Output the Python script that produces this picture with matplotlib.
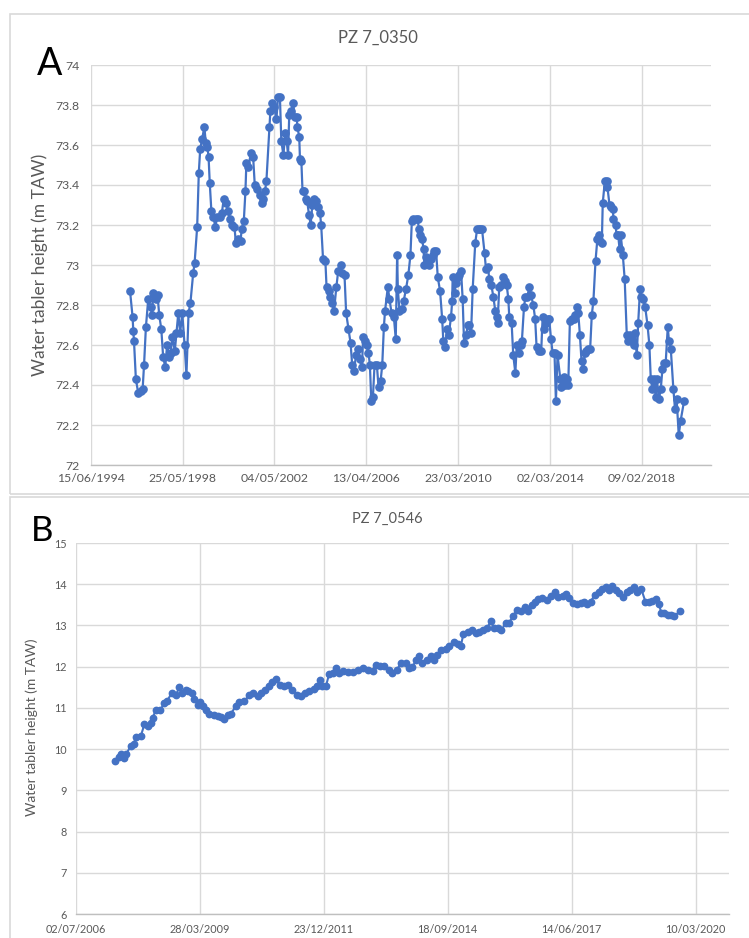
import matplotlib
matplotlib.use("Agg")
import matplotlib.pyplot as plt
from matplotlib.patches import Rectangle
from datetime import datetime, timedelta

plt.rcParams['font.family'] = ['Lato', 'DejaVu Sans']

# ---------------- data ----------------
a_title = "PZ 7_0350"
b_title = "PZ 7_0546"
y_label = "Water tabler height (m TAW)"

# Panel A: measurement dates (decimal years) and water table heights (m TAW)
a_years = [
    1996.14, 1996.25, 1996.28, 1996.31, 1996.39, 1996.49, 1996.59, 1996.68, 1996.74, 1996.82,
    1996.92, 1997.02, 1997.09, 1997.13, 1997.24, 1997.32, 1997.39, 1997.48, 1997.56, 1997.65,
    1997.73, 1997.82, 1997.88, 1997.96, 1998.06, 1998.13, 1998.21, 1998.29, 1998.38, 1998.48,
    1998.56, 1998.65, 1998.73, 1998.85, 1998.91, 1999.02, 1999.09, 1999.15, 1999.23, 1999.33,
    1999.39, 1999.46, 1999.51, 1999.56, 1999.63, 1999.72, 1999.80, 1999.88, 1999.99, 2000.08,
    2000.16, 2000.25, 2000.35, 2000.42, 2000.52, 2000.62, 2000.68, 2000.78, 2000.88, 2000.93,
    2001.02, 2001.09, 2001.13, 2001.22, 2001.32, 2001.42, 2001.49, 2001.59, 2001.70, 2001.79,
    2001.85, 2001.93, 2001.99,
    2002.12, 2002.16, 2002.23, 2002.32, 2002.42, 2002.49, 2002.57, 2002.63, 2002.72, 2002.80, 2002.86, 2002.92, 2002.97,
    2003.06, 2003.14, 2003.20, 2003.29, 2003.32, 2003.40, 2003.43, 2003.49, 2003.54, 2003.60, 2003.69, 2003.74, 2003.82, 2003.89, 2003.96,
    2004.03, 2004.13, 2004.20, 2004.29, 2004.34, 2004.42, 2004.52, 2004.57, 2004.66, 2004.73, 2004.82, 2004.89, 2004.99,
    2005.07, 2005.17, 2005.23, 2005.34, 2005.41, 2005.51, 2005.60, 2005.67, 2005.74, 2005.84, 2005.91, 2005.99,
    2006.09, 2006.14, 2006.23, 2006.30, 2006.37, 2006.43, 2006.49, 2006.56, 2006.63, 2006.73, 2006.80, 2006.89, 2006.96,
    2007.03, 2007.08, 2007.20, 2007.27, 2007.36, 2007.46, 2007.54, 2007.60, 2007.63, 2007.70, 2007.80, 2007.88, 2007.98,
    2008.08, 2008.17, 2008.23,
    2008.30, 2008.41, 2008.48, 2008.53, 2008.58, 2008.67, 2008.73, 2008.77, 2008.84, 2008.91, 2008.98,
    2009.06, 2009.13, 2009.20, 2009.27, 2009.34, 2009.44, 2009.53, 2009.58, 2009.67, 2009.73, 2009.81, 2009.91, 2009.96, 2009.98,
    2010.06, 2010.13, 2010.21, 2010.27, 2010.34, 2010.41, 2010.47, 2010.56, 2010.63, 2010.70, 2010.77, 2010.84, 2010.95,
    2011.03, 2011.10, 2011.17, 2011.24, 2011.35, 2011.41, 2011.50, 2011.55, 2011.64, 2011.73, 2011.81, 2011.87, 2011.91, 2011.98,
    2012.07, 2012.15, 2012.21, 2012.30, 2012.37, 2012.41, 2012.51, 2012.58, 2012.67, 2012.73, 2012.81, 2012.90, 2012.95,
    2013.04, 2013.10, 2013.18, 2013.27, 2013.34, 2013.44, 2013.52, 2013.58, 2013.70, 2013.78, 2013.84, 2013.91, 2013.98,
    2014.05, 2014.12, 2014.20, 2014.27, 2014.35, 2014.41, 2014.48,
    2014.60, 2014.65, 2014.74, 2014.81, 2014.88, 2014.94,
    2015.01, 2015.09, 2015.17, 2015.24, 2015.31, 2015.37, 2015.44, 2015.51, 2015.59, 2015.65, 2015.72, 2015.79, 2015.88, 2015.95,
    2016.02, 2016.11, 2016.19, 2016.24, 2016.31, 2016.38, 2016.42, 2016.51, 2016.59, 2016.62, 2016.71, 2016.79, 2016.85, 2016.88, 2016.97,
    2017.01, 2017.08, 2017.14, 2017.19, 2017.28, 2017.36, 2017.45, 2017.51, 2017.59, 2017.66, 2017.74, 2017.79, 2017.88, 2017.94,
    2018.02, 2018.08, 2018.16, 2018.24, 2018.34, 2018.42, 2018.48, 2018.55, 2018.62, 2018.69, 2018.74, 2018.83, 2018.91, 2018.98,
    2019.05, 2019.12, 2019.21, 2019.26, 2019.34, 2019.45, 2019.52, 2019.59, 2019.68, 2019.76, 2019.91,
]
a_levels = [
    72.87, 72.74, 72.67, 72.62, 72.43, 72.36, 72.37, 72.38, 72.50, 72.69,
    72.83, 72.79, 72.75, 72.86, 72.83, 72.85, 72.75, 72.68, 72.54, 72.49,
    72.60, 72.54, 72.56, 72.64, 72.57, 72.66, 72.76, 72.66, 72.76, 72.60,
    72.45, 72.76, 72.81, 72.96, 73.01, 73.19, 73.46, 73.58, 73.63, 73.69,
    73.61, 73.59, 73.54, 73.41, 73.27, 73.24, 73.19, 73.24, 73.24, 73.26,
    73.33, 73.31, 73.27, 73.23, 73.20, 73.19, 73.11, 73.13, 73.12, 73.18,
    73.22, 73.37, 73.51, 73.49, 73.56, 73.54, 73.40, 73.38, 73.35, 73.31,
    73.33, 73.37, 73.42,
    73.69, 73.77, 73.81, 73.79, 73.73, 73.84, 73.84, 73.62, 73.55, 73.66, 73.62, 73.55, 73.75,
    73.77, 73.81, 73.74, 73.74, 73.69, 73.64, 73.53, 73.52, 73.37, 73.37, 73.33, 73.32, 73.25, 73.20, 73.30,
    73.33, 73.32, 73.29, 73.26, 73.20, 73.03, 73.02, 72.89, 72.87, 72.84, 72.81, 72.77, 72.89,
    72.97, 73.00, 72.96, 72.95, 72.76, 72.68, 72.61, 72.50, 72.47, 72.55, 72.58, 72.53,
    72.49, 72.64, 72.62, 72.60, 72.56, 72.50, 72.32, 72.34, 72.50, 72.50, 72.39, 72.42, 72.50,
    72.69, 72.77, 72.89, 72.83, 72.76, 72.74, 72.63, 73.05, 72.88, 72.77, 72.78, 72.82, 72.88,
    72.95, 73.05, 73.22,
    73.23, 73.23, 73.23, 73.18, 73.15, 73.13, 73.08, 73.00, 73.04, 73.03, 73.00,
    73.03, 73.05, 73.07, 73.07, 72.94, 72.87, 72.73, 72.62, 72.59, 72.68, 72.65, 72.74, 72.82, 72.94,
    72.86, 72.91, 72.94, 72.95, 72.97, 72.83, 72.61, 72.65, 72.70, 72.70, 72.66, 72.88, 73.11,
    73.18, 73.18, 73.18, 73.18, 73.06, 72.98, 72.99, 72.93, 72.90, 72.84, 72.77, 72.74, 72.71, 72.89,
    72.90, 72.94, 72.92, 72.90, 72.83, 72.74, 72.71, 72.55, 72.46, 72.60, 72.56, 72.60, 72.62,
    72.79, 72.84, 72.84, 72.89, 72.85, 72.80, 72.73, 72.59, 72.57, 72.57, 72.74, 72.68, 72.71,
    72.73, 72.73, 72.63, 72.56, 72.56, 72.32, 72.55,
    72.43, 72.39, 72.44, 72.40, 72.43, 72.40,
    72.72, 72.73, 72.73, 72.75, 72.79, 72.76, 72.65, 72.52, 72.48, 72.56, 72.57, 72.58, 72.58, 72.75,
    72.82, 73.02, 73.13, 73.15, 73.12, 73.11, 73.31, 73.42, 73.42, 73.39, 73.30, 73.29, 73.28, 73.23, 73.20,
    73.15, 73.15, 73.08, 73.15, 73.05, 72.93, 72.65, 72.62, 72.65, 72.62, 72.60, 72.66, 72.55, 72.71,
    72.88, 72.84, 72.83, 72.79, 72.70, 72.60, 72.43, 72.38, 72.43, 72.34, 72.43, 72.33, 72.38, 72.48,
    72.51, 72.51, 72.69, 72.62, 72.58, 72.38, 72.28, 72.33, 72.15, 72.22, 72.32,
]

# Panel B
b_years = [
    2007.35, 2007.46, 2007.50, 2007.56, 2007.61, 2007.71, 2007.78,
    2007.82, 2007.93, 2008.01, 2008.08, 2008.15, 2008.19, 2008.27, 2008.36, 2008.45, 2008.51, 2008.61, 2008.71, 2008.78, 2008.85, 2008.93, 2008.98,
    2009.06, 2009.11, 2009.19, 2009.24, 2009.30, 2009.37, 2009.44, 2009.54, 2009.63, 2009.70, 2009.77, 2009.85, 2009.92,
    2010.03, 2010.10, 2010.22, 2010.33, 2010.40, 2010.51, 2010.58, 2010.67, 2010.77, 2010.84, 2010.91,
    2011.01, 2011.10, 2011.19, 2011.28, 2011.38, 2011.47, 2011.55, 2011.65, 2011.75, 2011.83, 2011.89, 2011.94,
    2012.02, 2012.09, 2012.17, 2012.24, 2012.31, 2012.39, 2012.50, 2012.61, 2012.72, 2012.83, 2012.94,
    2013.05, 2013.12, 2013.21, 2013.31, 2013.42, 2013.49, 2013.59, 2013.67, 2013.78, 2013.86, 2013.93,
    2014.01, 2014.08, 2014.15, 2014.26, 2014.35, 2014.40, 2014.48, 2014.57, 2014.67, 2014.74, 2014.84, 2014.93,
    2015.00, 2015.06, 2015.15, 2015.24, 2015.33, 2015.40, 2015.50, 2015.59, 2015.66, 2015.74, 2015.82, 2015.90, 2015.99,
    2016.07, 2016.16, 2016.24, 2016.33, 2016.41, 2016.49, 2016.58, 2016.63, 2016.71, 2016.80, 2016.90, 2016.99,
    2017.08, 2017.15, 2017.25, 2017.32, 2017.39, 2017.47, 2017.56, 2017.65, 2017.72, 2017.80, 2017.87, 2017.96,
    2018.05, 2018.13, 2018.20, 2018.28, 2018.35, 2018.42, 2018.50, 2018.59, 2018.68, 2018.75, 2018.83, 2018.90, 2018.99,
    2019.08, 2019.16, 2019.23, 2019.31, 2019.38, 2019.43, 2019.50, 2019.58, 2019.65, 2019.72, 2019.84,
]
b_levels = [
    9.71, 9.82, 9.88, 9.78, 9.88, 10.08, 10.13,
    10.30, 10.31, 10.60, 10.56, 10.64, 10.76, 10.96, 10.94, 11.12, 11.16, 11.36, 11.32, 11.50, 11.35, 11.44, 11.40,
    11.35, 11.22, 11.08, 11.14, 11.04, 10.96, 10.86, 10.82, 10.80, 10.78, 10.73, 10.82, 10.86,
    11.04, 11.14, 11.16, 11.32, 11.36, 11.28, 11.35, 11.44, 11.52, 11.62, 11.70,
    11.55, 11.54, 11.55, 11.43, 11.32, 11.28, 11.35, 11.40, 11.47, 11.52, 11.67, 11.52,
    11.52, 11.81, 11.85, 11.97, 11.85, 11.89, 11.87, 11.87, 11.91, 11.97, 11.93,
    11.90, 12.05, 12.02, 12.01, 11.93, 11.85, 11.91, 12.09, 12.09, 11.97, 11.99,
    12.15, 12.27, 12.10, 12.15, 12.25, 12.15, 12.29, 12.40, 12.43, 12.51, 12.59, 12.56,
    12.49, 12.80, 12.85, 12.90, 12.81, 12.85, 12.90, 12.94, 13.10, 12.94, 12.94, 12.88, 13.06,
    13.07, 13.23, 13.38, 13.34, 13.44, 13.36, 13.50, 13.58, 13.64, 13.66, 13.62, 13.72,
    13.82, 13.69, 13.72, 13.77, 13.66, 13.54, 13.52, 13.54, 13.58, 13.52, 13.58, 13.74,
    13.80, 13.88, 13.93, 13.86, 13.96, 13.85, 13.78, 13.70, 13.80, 13.85, 13.94, 13.82, 13.88,
    13.58, 13.58, 13.60, 13.64, 13.52, 13.31, 13.30, 13.26, 13.26, 13.23, 13.34,
]

a_xtick_start = datetime(1994, 6, 15)
a_xtick_step_days = 1440
a_n_xticks = 7
a_yticks = [72.0, 72.2, 72.4, 72.6, 72.8, 73.0, 73.2, 73.4, 73.6, 73.8, 74.0]
a_ytick_labels = ["72", "72.2", "72.4", "72.6", "72.8", "73", "73.2", "73.4", "73.6", "73.8", "74"]

b_xtick_start = datetime(2006, 7, 2)
b_xtick_step_days = 1000
b_n_xticks = 6
b_yticks = [6, 7, 8, 9, 10, 11, 12, 13, 14, 15]
b_ytick_labels = ["6", "7", "8", "9", "10", "11", "12", "13", "14", "15"]


def to_dates(years):
    out = []
    for y in years:
        yr = int(y)
        start = datetime(yr, 1, 1)
        length = (datetime(yr + 1, 1, 1) - start).days
        out.append(start + timedelta(days=(y - yr) * length))
    return out


# ---------------- figure ----------------
W, H = 749, 938
fig = plt.figure(figsize=(W / 100, H / 100), dpi=100)
fig.patch.set_facecolor('white')

BLUE = '#4472C4'
GRID = '#D9D9D9'
TXT = '#595959'


def rect(l, t, r, b):
    return [l / W, 1 - b / H, (r - l) / W, (b - t) / H]


# panel frames (right / bottom edges run off the picture as in the original)
for (l, t, r, b) in [(10, 14, 760, 494), (10, 497, 760, 950)]:
    fig.patches.append(Rectangle((l / W, 1 - b / H), (r - l) / W, (b - t) / H,
                                 transform=fig.transFigure, fill=False,
                                 edgecolor=GRID, lw=1.2))


def style_axes(ax, tick_size, xpad, ypad):
    for s in ['top', 'right', 'left']:
        ax.spines[s].set_visible(False)
    ax.spines['bottom'].set_color('#BFBFBF')
    ax.spines['bottom'].set_linewidth(1.0)
    ax.grid(True, color=GRID, lw=1.0)
    ax.set_axisbelow(True)
    ax.tick_params(length=0, labelsize=tick_size, labelcolor=TXT)
    ax.tick_params(axis='x', pad=xpad)
    ax.tick_params(axis='y', pad=ypad)


# Panel A
axA = fig.add_axes(rect(90.7, 65, 711, 465))
a_ticks = [a_xtick_start + timedelta(days=a_xtick_step_days * k) for k in range(a_n_xticks)]
axA.plot(to_dates(a_years), a_levels, color=BLUE, lw=1.6, marker='o', ms=5.2,
         mfc=BLUE, mec=BLUE, solid_joinstyle='round')
axA.set_xlim(a_xtick_start, a_xtick_start + timedelta(days=9720))
axA.set_ylim(72, 74)
axA.set_xticks(a_ticks)
axA.set_xticklabels([d.strftime('%d/%m/%Y') for d in a_ticks])
axA.set_yticks(a_yticks)
axA.set_yticklabels(a_ytick_labels)
style_axes(axA, 8.8, 6, 8)

# Panel B
axB = fig.add_axes(rect(76, 543, 729, 914))
b_ticks = [b_xtick_start + timedelta(days=b_xtick_step_days * k) for k in range(b_n_xticks)]
axB.plot(to_dates(b_years), b_levels, color=BLUE, lw=1.5, marker='o', ms=4.6,
         mfc=BLUE, mec=BLUE, solid_joinstyle='round')
axB.set_xlim(b_xtick_start, b_xtick_start + timedelta(days=5270))
axB.set_ylim(6, 15)
axB.set_xticks(b_ticks)
axB.set_xticklabels([d.strftime('%d/%m/%Y') for d in b_ticks])
axB.set_yticks(b_yticks)
axB.set_yticklabels(b_ytick_labels)
style_axes(axB, 7.8, 7, 7)

# texts
fig.text(378 / W, 1 - 38 / H, a_title, ha='center', va='center', fontsize=12, color=TXT)
fig.text(387 / W, 1 - 519 / H, b_title, ha='center', va='center', fontsize=10.5, color=TXT)
fig.text(50 / W, 1 - 64 / H, "A", ha='center', va='center', fontsize=27, color='black')
fig.text(42 / W, 1 - 531 / H, "B", ha='center', va='center', fontsize=25, color='black')
fig.text(40 / W, 1 - 265 / H, y_label, ha='center', va='center', rotation=90,
         fontsize=12.5, color=TXT)
fig.text(32 / W, 1 - 727 / H, y_label, ha='center', va='center', rotation=90,
         fontsize=10, color=TXT)

fig.savefig('out.png', dpi=100, facecolor='white')
